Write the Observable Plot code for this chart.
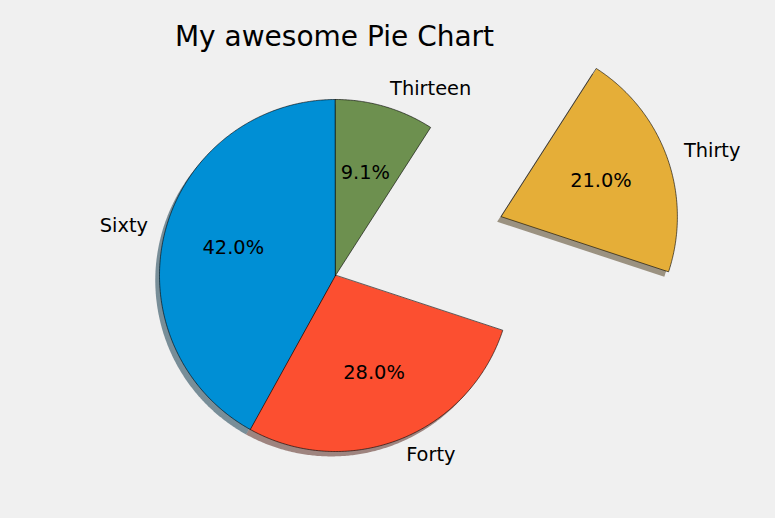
<!DOCTYPE html>
<html>
<head>
<meta charset="utf-8">
<script src="https://cdn.jsdelivr.net/npm/d3@7"></script>
<script src="https://cdn.jsdelivr.net/npm/@observablehq/plot@0.6"></script>
<style>
  html, body { margin: 0; padding: 0; background: #f0f0f0; }
  svg { background: #f0f0f0; display: block; }
</style>
</head>
<body>
<div id="chart"></div>
<script>
// ---- data ----
const labels = ["Sixty", "Forty", "Thirty", "Thirteen"];
const values = [60, 40, 30, 13];
const title = "My awesome Pie Chart";

// ---- styling / layout config ----
const palette = ["#008fd5", "#fc4f30", "#e5ae38", "#6d904f"];
const explode = [0, 0, 1.0, 0];
const startAngle = 90;      // degrees, counter-clockwise from east
const W = 775, H = 518;
const cx = 335, cy = 275, R = 176;   // pixel centre & radius
const font = "DejaVu Sans, sans-serif";

// data-unit domains (1 unit = pie radius)
const xDomain = [-cx / R, (W - cx) / R];
const yDomain = [-(H - cy) / R, cy / R];

const total = d3.sum(values);
let acc = startAngle;
const slices = values.map((v, i) => {
  const a0 = acc, a1 = acc + 360 * v / total;
  acc = a1;
  const mid = (a0 + a1) / 2 * Math.PI / 180;
  const ox = explode[i] * Math.cos(mid), oy = explode[i] * Math.sin(mid);
  return {label: labels[i], value: v, pct: (100 * v / total).toFixed(1) + "%",
          a0, a1, mid, ox, oy, color: palette[i]};
});

function wedge(s, dx = 0, dy = 0) {
  const pts = [{x: s.ox + dx, y: s.oy + dy}];
  const n = Math.max(2, Math.ceil((s.a1 - s.a0) / 0.5));
  for (let k = 0; k <= n; k++) {
    const a = (s.a0 + (s.a1 - s.a0) * k / n) * Math.PI / 180;
    pts.push({x: s.ox + dx + Math.cos(a), y: s.oy + dy + Math.sin(a)});
  }
  return pts;
}

function shade(c) {
  const col = d3.rgb(c);
  return d3.rgb(col.r * 0.3, col.g * 0.3, col.b * 0.3).formatHex();
}

const marks = [];
// shadows
slices.forEach(s => {
  marks.push(Plot.line(wedge(s, -0.024, -0.028), {
    x: "x", y: "y", fill: shade(s.color), fillOpacity: 0.5, stroke: "none", curve: "linear-closed"
  }));
});
// wedges
slices.forEach(s => {
  marks.push(Plot.line(wedge(s), {
    x: "x", y: "y", fill: s.color, stroke: "#000", strokeWidth: 0.6, curve: "linear-closed"
  }));
});
// labels
const labelData = slices.map(s => ({
  x: s.ox + 1.1 * Math.cos(s.mid), y: s.oy + 1.1 * Math.sin(s.mid),
  text: s.label, anchor: Math.cos(s.mid) > 0 ? "start" : "end"
}));
marks.push(Plot.text(labelData.filter(d => d.anchor === "start"), {
  x: "x", y: "y", text: "text", textAnchor: "start", fontSize: 19.4, fontFamily: font, fill: "#000", dy: -1
}));
marks.push(Plot.text(labelData.filter(d => d.anchor === "end"), {
  x: "x", y: "y", text: "text", textAnchor: "end", fontSize: 19.4, fontFamily: font, fill: "#000", dy: -1
}));
// percentages
marks.push(Plot.text(slices, {
  x: s => s.ox + 0.6 * Math.cos(s.mid), y: s => s.oy + 0.6 * Math.sin(s.mid),
  text: "pct", fontSize: 19.4, fontFamily: font, fill: "#000", dy: -1
}));
// title
marks.push(Plot.text([title], {
  x: 0, y: (cy - 37) / R, text: d => d, fontSize: 28, fontFamily: font, fill: "#000", dx: -1
}));

const chart = Plot.plot({
  width: W, height: H,
  margin: 0,
  x: {domain: xDomain, axis: null},
  y: {domain: yDomain, axis: null},
  style: {background: "#f0f0f0", fontFamily: font},
  marks
});
document.getElementById("chart").appendChild(chart);
</script>
</body>
</html>
